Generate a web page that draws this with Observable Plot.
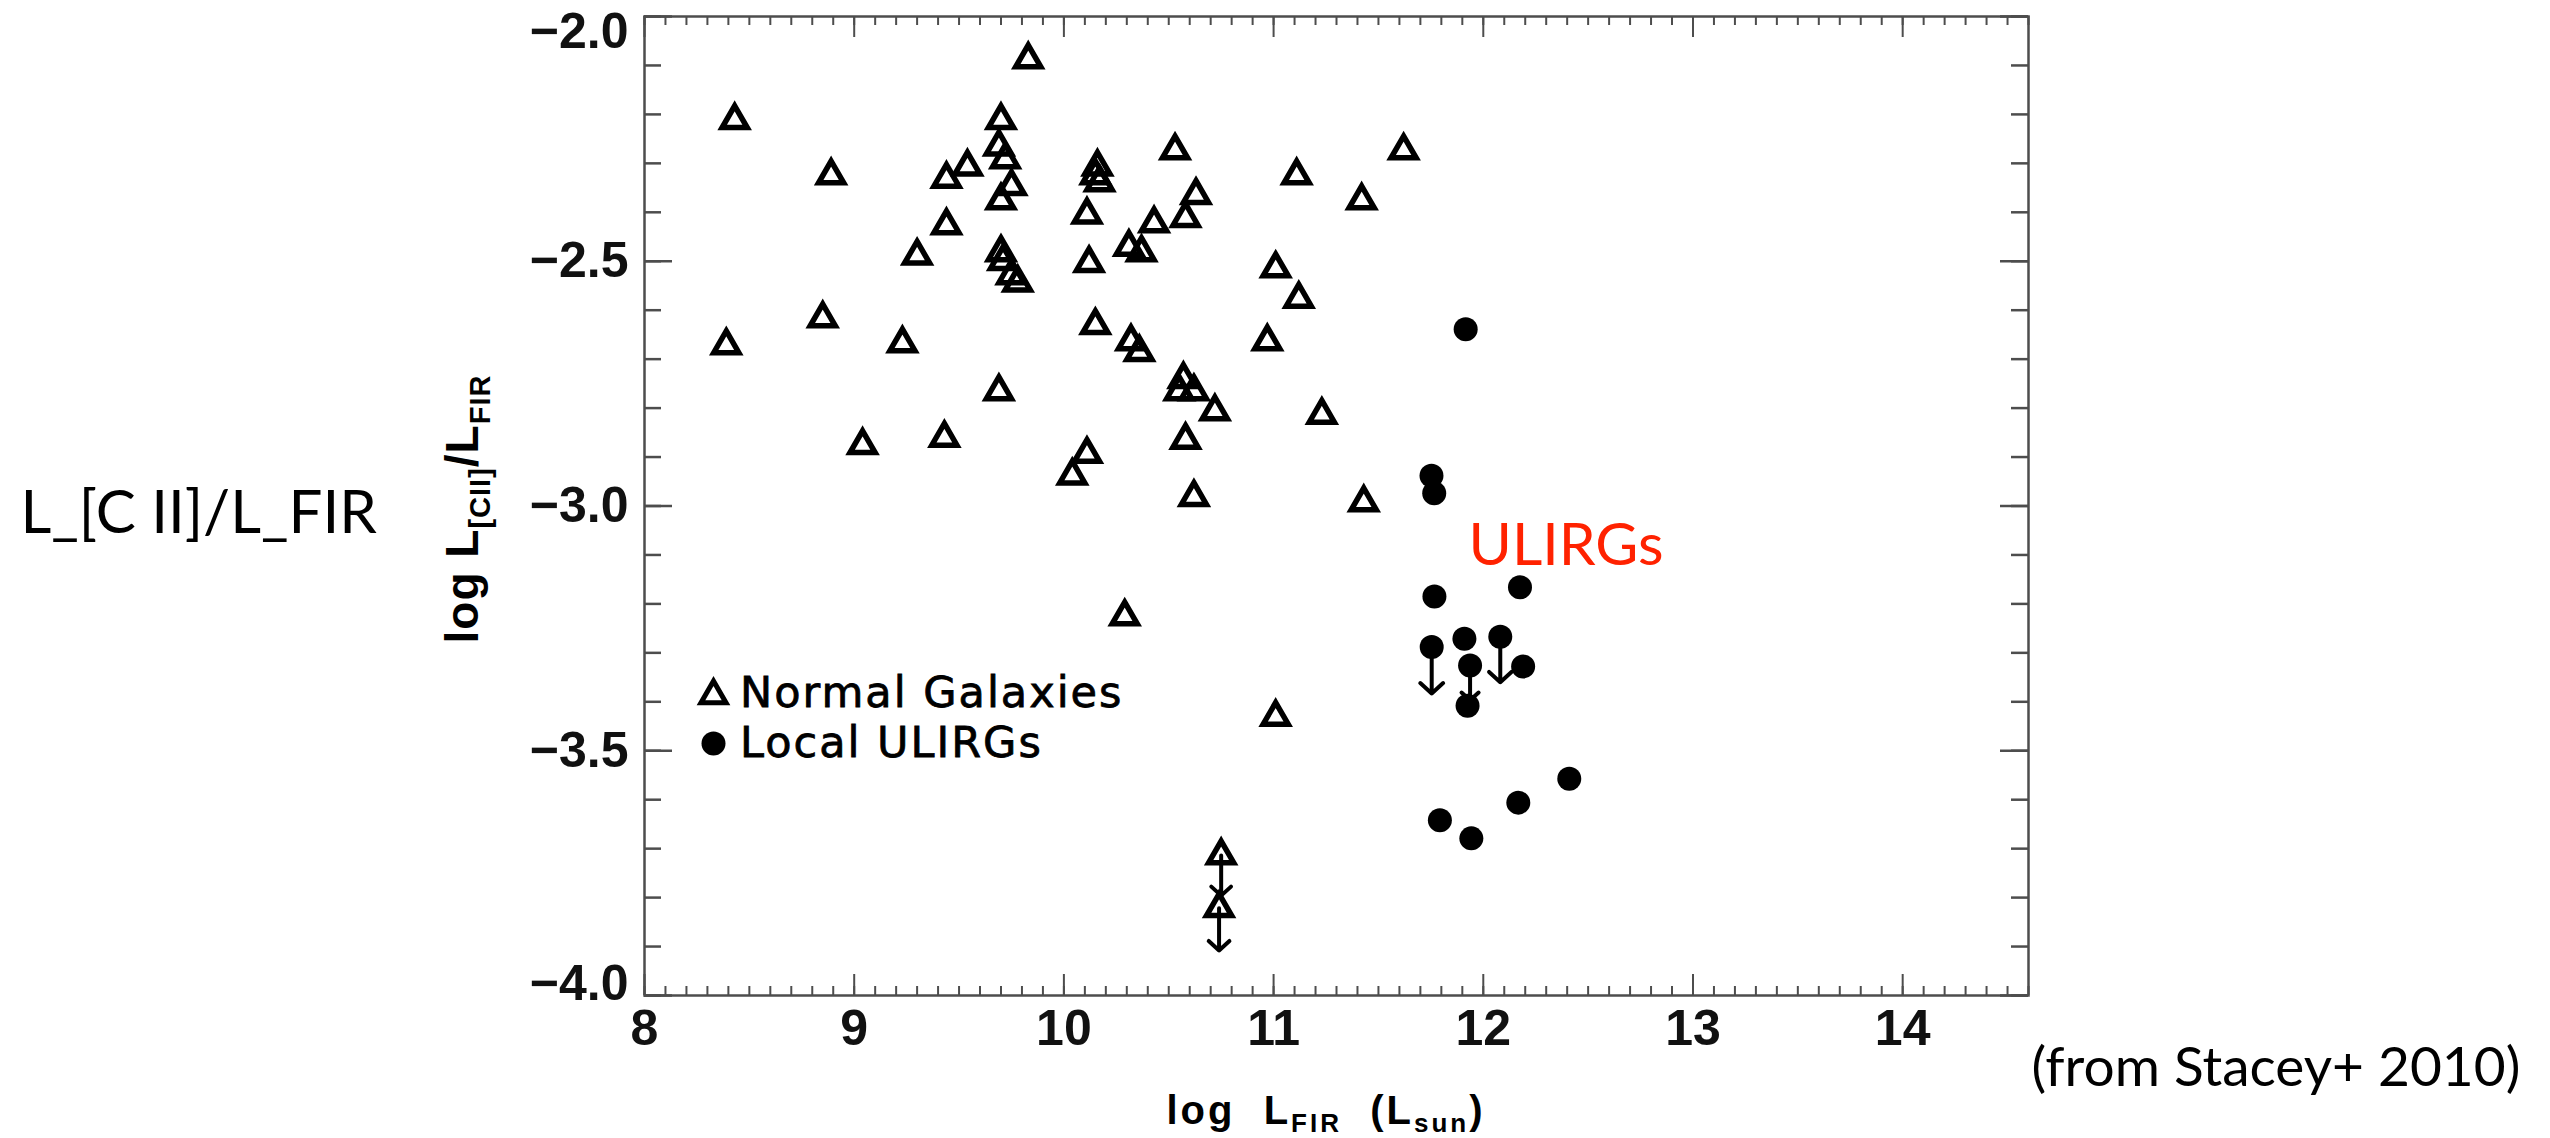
<!DOCTYPE html>
<html><head><meta charset="utf-8">
<script src="https://cdn.jsdelivr.net/npm/d3@7"></script>
<script src="https://cdn.jsdelivr.net/npm/@observablehq/plot@0.6"></script>
<style>
html,body{margin:0;padding:0;background:#fff;}
#chart{width:2550px;height:1138px;overflow:hidden;}
</style></head><body><div id="chart"></div>
<script>
// Normal galaxies (open triangles): log L_FIR, log L[CII]/L_FIR
const normalX = [9.83,8.43,9.70,9.69,9.72,9.54,8.89,9.44,9.75,9.70,10.16,10.15,10.17,10.53,10.63,10.58,10.43,10.11,9.44,11.11,11.42,11.62,
  10.31,10.37,9.30,9.70,9.71,9.75,9.78,10.12,11.01,11.12,8.85,8.39,9.23,10.15,10.32,10.36,10.97,10.57,10.55,10.62,10.72,11.23,9.69,
  9.04,9.43,10.58,10.11,10.04,10.62,11.43,10.29,11.01,10.75,10.74];
const normalY = [-2.088,-2.212,-2.212,-2.266,-2.292,-2.307,-2.325,-2.332,-2.347,-2.376,-2.307,-2.325,-2.339,-2.274,-2.365,-2.412,-2.423,-2.405,-2.427,-2.325,-2.376,-2.274,
  -2.471,-2.482,-2.489,-2.482,-2.500,-2.529,-2.544,-2.504,-2.515,-2.577,-2.617,-2.672,-2.668,-2.631,-2.664,-2.686,-2.664,-2.741,-2.766,-2.766,-2.807,-2.814,-2.766,
  -2.876,-2.861,-2.865,-2.894,-2.938,-2.982,-2.993,-3.226,-3.431,-3.714,-3.822];
// Local ULIRGs (filled circles)
const ulirgX = [11.916,11.753,11.766,11.767,12.175,11.754,11.910,11.937,11.925,12.081,12.190,12.410,12.167,11.793,11.943];
const ulirgY = [-2.639,-2.938,-2.974,-3.185,-3.166,-3.288,-3.271,-3.326,-3.408,-3.267,-3.328,-3.557,-3.606,-3.642,-3.679];
// Upper limits (arrow from point down to tip)
const limitX = [10.75,10.74,11.754,11.937,12.081];
const limitY = [-3.714,-3.822,-3.288,-3.326,-3.267];
const limitTipY = [-3.796,-3.908,-3.383,-3.397,-3.360];
// Axis ticks
const xMajor = [8,9,10,11,12,13,14];
const xMinor = d3.range(80,147).map(d => d/10);
const yMajor = [-4,-3.5,-3,-2.5,-2];
const yMinor = d3.range(-40,-19).map(d => d/10);
const legendLabels = ["Normal Galaxies","Local ULIRGs"];

const W = 2550, H = 1138, mL = 644, mR = 522, mT = 16, mB = 143;
const fw = W - mL - mR, fh = H - mT - mB;
const axisColor = "#4d4d4d";
const fmt = d3.format(".1f");
const tickFont = "'Liberation Sans', Arial, sans-serif";
const slideFont = "Lato, 'Open Sans', sans-serif";

function svgEl(tag, attrs) {
  const e = document.createElementNS("http://www.w3.org/2000/svg", tag);
  for (const k in attrs) e.setAttribute(k, attrs[k]);
  return e;
}
function richText(parts, attrs) {
  const t = svgEl("text", attrs);
  for (const p of parts) {
    const s = svgEl("tspan", p.attrs || {});
    s.textContent = p.t;
    t.appendChild(s);
  }
  return t;
}

const annotations = () => {
  const g = svgEl("g", {});
  // y-axis title (rotated, with subscripts)
  g.appendChild(richText([
    {t: "log L"},
    {t: "[CII]", attrs: {"font-size": 29, dy: 12}},
    {t: "/L", attrs: {dy: -12}},
    {t: "FIR", attrs: {"font-size": 29, dy: 12}}
  ], {transform: "translate(478,509) rotate(-90)", "text-anchor": "middle", "font-size": 46, "font-weight": "bold", "font-family": tickFont, fill: "#000", "letter-spacing": 1}));
  // x-axis title
  g.appendChild(richText([
    {t: "log  L"},
    {t: "FIR", attrs: {"font-size": 26, dy: 8}},
    {t: "  (L", attrs: {dy: -8}},
    {t: "sun", attrs: {"font-size": 26, dy: 8}},
    {t: ")", attrs: {dy: -8}}
  ], {x: 1326, y: 1124, "text-anchor": "middle", "font-size": 40, "font-weight": "bold", "font-family": tickFont, fill: "#000", "letter-spacing": 3, style: "white-space:pre"}));
  // legend labels
  legendLabels.forEach((lab, i) => {
    const t = svgEl("text", {x: 740, y: 707 + i * 50, "text-anchor": "start", "font-size": 43, "font-family": "'DejaVu Sans', sans-serif", fill: "#000", stroke: "#000", "stroke-width": 0.8, "letter-spacing": 2});
    t.textContent = lab;
    g.appendChild(t);
  });
  return g;
};

const tickLabel = {fontSize: 50, fontWeight: "bold", fontFamily: tickFont, fill: "#111"};

const plot = Plot.plot({
  width: W, height: H,
  marginLeft: mL, marginRight: mR, marginTop: mT, marginBottom: mB,
  style: {background: "#fff", color: "#000", overflow: "visible"},
  x: {domain: [8, 14.6], axis: null},
  y: {domain: [-4, -2], axis: null},
  marks: [
    Plot.frame({stroke: axisColor, strokeWidth: 2.5}),
    // inward ticks: left, right, bottom, top
    Plot.tickY(yMinor, {y: d => d, insetRight: fw - 17, stroke: axisColor, strokeWidth: 2.5}),
    Plot.tickY(yMajor, {y: d => d, insetRight: fw - 28, stroke: axisColor, strokeWidth: 2.5}),
    Plot.tickY(yMinor, {y: d => d, insetLeft: fw - 17, stroke: axisColor, strokeWidth: 2.5}),
    Plot.tickY(yMajor, {y: d => d, insetLeft: fw - 28, stroke: axisColor, strokeWidth: 2.5}),
    Plot.tickX(xMinor, {x: d => d, insetTop: fh - 9, stroke: axisColor, strokeWidth: 2}),
    Plot.tickX(xMajor, {x: d => d, insetTop: fh - 21, stroke: axisColor, strokeWidth: 2}),
    Plot.tickX(xMinor, {x: d => d, insetBottom: fh - 9, stroke: axisColor, strokeWidth: 2}),
    Plot.tickX(xMajor, {x: d => d, insetBottom: fh - 21, stroke: axisColor, strokeWidth: 2}),
    // tick labels
    Plot.text(xMajor, {x: d => d, frameAnchor: "bottom", dy: 49, text: d => String(d), ...tickLabel}),
    Plot.text(yMajor.filter(d => d > -4 && d < -2), {y: d => d, frameAnchor: "left", dx: -16, textAnchor: "end", text: d => fmt(d), ...tickLabel}),
    Plot.text(yMajor.filter(d => d === -2), {y: d => d, frameAnchor: "left", dx: -16, dy: 15, textAnchor: "end", text: d => fmt(d), ...tickLabel}),
    Plot.text(yMajor.filter(d => d === -4), {y: d => d, frameAnchor: "left", dx: -16, dy: -12, textAnchor: "end", text: d => fmt(d), ...tickLabel}),
    // upper-limit arrows
    Plot.arrow(limitX, {x: limitX, y1: limitY, y2: limitTipY, stroke: "#000", strokeWidth: 4, headLength: 18, headAngle: 95}),
    // data
    Plot.dot(normalX, {x: normalX, y: normalY, symbol: "triangle", r: 9.3, stroke: "#000", strokeWidth: 5.5, fill: "none"}),
    Plot.dot(ulirgX, {x: ulirgX, y: ulirgY, symbol: "circle", r: 12, fill: "#000", stroke: "none"}),
    // legend symbols
    Plot.dot([legendLabels[0]], {frameAnchor: "top-left", dx: 69, dy: 679, symbol: "triangle", r: 9.3, stroke: "#000", strokeWidth: 5, fill: "none"}),
    Plot.dot([legendLabels[1]], {frameAnchor: "top-left", dx: 69, dy: 727, symbol: "circle", r: 12, fill: "#000"}),
    // red annotation
    Plot.text(["ULIRGs"], {frameAnchor: "top-left", dx: 824, dy: 507, textAnchor: "start", fontSize: 59, fontFamily: slideFont, fill: "#ff2200"}),
    // outside labels
    Plot.text(["L_[C II]/L_FIR"], {frameAnchor: "top-left", dx: 20 - mL, dy: 490 - mT, textAnchor: "start", fontSize: 60, fontFamily: slideFont, fill: "#000"}),
    Plot.text(["(from Stacey+ 2010)"], {frameAnchor: "bottom-right", dx: 3, dy: 90, textAnchor: "start", fontSize: 55, fontFamily: slideFont, fill: "#000"}),
    annotations
  ]
});
document.getElementById("chart").appendChild(plot);
</script></body></html>
